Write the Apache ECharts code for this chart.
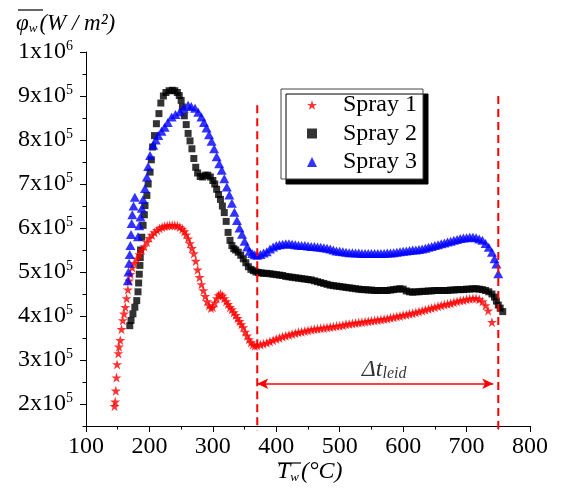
<!DOCTYPE html>
<html><head><meta charset="utf-8">
<script src="https://cdn.jsdelivr.net/npm/echarts@6/dist/echarts.min.js"></script>
<style>html,body{margin:0;padding:0;background:#fff}#c{width:561px;height:493px}</style>
</head><body><div id="c"></div>
<script>
// x: mean wall temperature (°C); y: mean heat flux in units of 10^5 W/m²
const spray1 = [
[145,1.95],[146,2.05],[147,2.3],[148,2.6],[149,2.9],[151,3.15],[152,3.3],[154,3.45],[156,3.7],[158,3.9],
[160,4.05],[162,4.2],[164,4.4],[166,4.6],[168,4.8],[170,4.95],[173,5.1],[176,5.2],[180,5.3],[184,5.4],
[188,5.5],[192,5.58],[196,5.68],[200,5.77],[204,5.84],[208,5.9],[212,5.95],[216,5.99],[220,6.02],[224,6.04],
[228,6.05],[232,6.06],[236,6.06],[240,6.06],[244,6.05],[248,6.02],[252,5.98],[255,5.92],[258,5.85],[261,5.76],
[264,5.65],[267,5.54],[270,5.42],[273,5.25],[276,5.05],[279,4.88],[282,4.72],[285,4.58],[288,4.45],[291,4.33],
[294,4.24],[297,4.18],[300,4.2],[303,4.3],[306,4.4],[309,4.47],[312,4.5],[315,4.46],[318,4.4],[321,4.33],
[324,4.27],[327,4.2],[330,4.15],[333,4.08],[336,4.02],[339,3.95],[342,3.88],[345,3.81],[348,3.74],[351,3.64],
[354,3.55],[357,3.47],[360,3.4],[363,3.35],[366,3.32],[370,3.33],[375,3.35],[380,3.37],[385,3.39],[390,3.42],
[395,3.45],[400,3.48],[405,3.5],[410,3.53],[415,3.55],[420,3.57],[425,3.59],[430,3.61],[435,3.63],[440,3.64],
[445,3.66],[450,3.67],[455,3.69],[460,3.7],[465,3.71],[470,3.72],[475,3.73],[480,3.74],[485,3.75],[490,3.76],
[495,3.77],[500,3.78],[505,3.79],[510,3.81],[515,3.82],[520,3.83],[525,3.84],[530,3.85],[535,3.86],[540,3.87],
[545,3.88],[550,3.89],[555,3.9],[560,3.91],[565,3.92],[570,3.93],[575,3.94],[580,3.96],[585,3.97],[590,3.99],
[595,4.0],[600,4.02],[605,4.03],[610,4.05],[615,4.06],[620,4.08],[625,4.1],[630,4.12],[635,4.14],[640,4.16],
[645,4.18],[650,4.2],[655,4.22],[660,4.24],[665,4.26],[670,4.27],[675,4.29],[680,4.31],[685,4.33],[690,4.35],
[695,4.36],[700,4.38],[705,4.39],[710,4.4],[715,4.4],[720,4.38],[725,4.33],[730,4.24],[734,4.12],[740,3.86]
];
const spray2 = [
[169,3.78],[171,3.9],[174,4.05],[177,4.2],[180,4.35],[182,4.55],[183,4.75],[184,4.95],[185,5.15],[185.5,5.33],
[186,5.5],[188,5.79],[190,6.06],[192,6.3],[193,6.51],[196,6.74],[198,7.0],[201,7.27],[203,7.55],[205,7.84],
[208,8.1],[211,8.37],[215,8.6],[218,8.84],[222,9.0],[226,9.08],[231,9.12],[236,9.13],[240,9.12],[244,9.08],
[247,9.01],[250,8.9],[252,8.75],[255,8.55],[258,8.35],[261,8.15],[264,7.98],[267,7.8],[270,7.58],[273,7.38],
[276,7.25],[280,7.17],[284,7.16],[288,7.2],[292,7.2],[296,7.16],[300,7.08],[303,7.0],[306,6.88],[309,6.76],
[312,6.65],[315,6.5],[318,6.35],[321,6.15],[324,5.9],[327,5.72],[330,5.6],[333,5.53],[336,5.5],[340,5.45],
[344,5.38],[348,5.3],[352,5.21],[356,5.12],[360,5.06],[364,5.03],[368,5.0],[372,4.99],[376,4.98],[380,4.97],
[385,4.97],[390,4.96],[395,4.95],[400,4.94],[405,4.93],[410,4.92],[415,4.9],[420,4.89],[425,4.88],[430,4.87],
[435,4.86],[440,4.85],[445,4.84],[450,4.83],[455,4.82],[460,4.8],[465,4.78],[470,4.76],[475,4.74],[480,4.72],
[485,4.7],[490,4.69],[495,4.68],[500,4.67],[505,4.66],[510,4.65],[515,4.64],[520,4.63],[525,4.62],[530,4.61],
[535,4.6],[540,4.6],[545,4.59],[550,4.59],[555,4.58],[560,4.58],[565,4.58],[570,4.58],[575,4.58],[580,4.59],
[585,4.6],[590,4.61],[595,4.62],[600,4.61],[605,4.57],[610,4.55],[615,4.54],[620,4.55],[625,4.55],[630,4.56],
[635,4.56],[640,4.57],[645,4.57],[650,4.58],[655,4.58],[660,4.58],[665,4.58],[670,4.58],[675,4.59],[680,4.59],
[685,4.6],[690,4.6],[695,4.6],[700,4.61],[705,4.61],[710,4.62],[715,4.62],[720,4.61],[725,4.6],[730,4.58],
[735,4.55],[740,4.5],[744,4.43],[747,4.34],[750,4.25],[753,4.18],[757,4.1]
];
const spray3 = [
[166,4.8],[167,5.0],[168,5.2],[169,5.4],[170,5.6],[171,5.85],[172,6.1],[173,6.3],[175,6.5],[177,6.7],
[182,5.8],[184,6.05],[186,6.25],[188,6.45],[190,6.65],[193,6.9],[196,7.16],[198,7.4],[201,7.65],[206,7.88],
[210,8.0],[214,8.1],[219,8.2],[224,8.29],[229,8.4],[235,8.52],[241,8.58],[248,8.64],[254,8.72],[261,8.79],
[266,8.76],[272,8.72],[277,8.63],[282,8.52],[286,8.4],[290,8.27],[294,8.12],[298,7.97],[302,7.8],[306,7.62],
[310,7.46],[314,7.31],[318,7.12],[322,6.93],[326,6.75],[330,6.56],[334,6.36],[338,6.17],[342,6.0],[346,5.86],
[350,5.7],[354,5.57],[358,5.47],[362,5.42],[366,5.39],[370,5.38],[375,5.4],[380,5.43],[385,5.46],[390,5.52],
[395,5.57],[400,5.6],[405,5.62],[410,5.63],[415,5.64],[420,5.64],[425,5.63],[430,5.62],[435,5.61],[440,5.6],
[445,5.6],[450,5.59],[455,5.58],[460,5.58],[465,5.57],[470,5.56],[475,5.55],[480,5.54],[485,5.52],[490,5.5],
[495,5.48],[500,5.47],[505,5.46],[510,5.45],[515,5.44],[520,5.44],[525,5.43],[530,5.43],[535,5.42],[540,5.42],
[545,5.42],[550,5.42],[555,5.42],[560,5.42],[565,5.42],[570,5.42],[575,5.43],[580,5.43],[585,5.44],[590,5.45],
[595,5.46],[600,5.47],[605,5.48],[610,5.49],[615,5.5],[620,5.5],[625,5.51],[630,5.52],[635,5.54],[640,5.56],
[645,5.58],[650,5.6],[655,5.62],[660,5.64],[665,5.66],[670,5.68],[675,5.7],[680,5.72],[685,5.74],[690,5.76],
[695,5.77],[700,5.78],[705,5.79],[710,5.79],[715,5.78],[720,5.75],[725,5.72],[730,5.65],[735,5.56],[740,5.45],
[744,5.3],[747,5.18],[750,4.96]
];
const seriesNames = ['Spray 1','Spray 2','Spray 3'];
const xTicks = [100,200,300,400,500,600,700,800];
const yTicks = [2,3,4,5,6,7,8,9,10];          // ×10^5 W/m²
const yMinorTicks = [1.5,2.5,3.5,4.5,5.5,6.5,7.5,8.5,9.5];
const yTickMantissa = ['2','3','4','5','6','7','8','9','1'];
const yTickExponent = ['5','5','5','5','5','5','5','5','6'];
// Leidenfrost interval annotation
const leidLines = [[370, 8.79], [750, 9.0]];   // [T, top of dashed line]
const leidArrow = [[370, 2.46], [742, 2.46]];
const leidLabel = [570, 2.80];

const FONT = 'Liberation Serif';
const star = 'path://M50 0 L61.23 34.55 L97.55 34.55 L68.16 55.9 L79.39 90.45 L50 69.1 L20.61 90.45 L31.84 55.9 L2.45 34.55 L38.77 34.55 Z';

const chart = echarts.init(document.getElementById('c'), null, {renderer:'canvas'});
const dashSeries = leidLines.map(function(l){
  return {type:'line', data:[[l[0], l[1]], [l[0], 1.4]], symbol:'none', clip:false, silent:true, z:5,
    lineStyle:{color:'#ff0000', width:2, type:[8,5]}};
});
chart.setOption({
  backgroundColor:'#fff',
  animation:false,
  grid:{left:86, right:31, top:52, bottom:67, outerBoundsMode:'none'},
  legend:{
    orient:'vertical', left:281, top:89,
    data:[{name:seriesNames[0], icon:star},{name:seriesNames[1], icon:'rect'},{name:seriesNames[2], icon:'triangle'}],
    itemWidth:10, itemHeight:10, itemGap:4.5,
    padding:[4,6,5,26],
    backgroundColor:'#fff', borderColor:'#444', borderWidth:1,
    shadowColor:'#000', shadowBlur:0, shadowOffsetX:5, shadowOffsetY:5,
    textStyle:{fontFamily:FONT, fontSize:24, color:'#000', lineHeight:24, padding:[0,0,0,21]}
  },
  xAxis:{
    type:'value', min:100, max:800, interval:100,
    axisLine:{show:true, onZero:false, lineStyle:{color:'#000', width:1}},
    axisTick:{show:true, length:6, lineStyle:{color:'#000'}},
    minorTick:{show:true, splitNumber:2, length:3.5, lineStyle:{color:'#000'}},
    splitLine:{show:false},
    axisLabel:{fontFamily:FONT, fontSize:24, color:'#000', margin:9, showMinLabel:true, showMaxLabel:true,
      customValues: xTicks}
  },
  yAxis:[{
    type:'value', min:1.5, max:10, position:'left', offset:0,
    axisLine:{show:true, onZero:false, lineStyle:{color:'#000', width:1}},
    axisTick:{show:true, length:6, lineStyle:{color:'#000'}, customValues:yTicks},
    splitLine:{show:false},
    axisLabel:{customValues:yTicks, margin:13, color:'#000',
      formatter:function(v){ const i = yTicks.indexOf(v); return '{b|'+yTickMantissa[i]+'x10}{s|'+yTickExponent[i]+'}'; },
      rich:{ b:{fontFamily:FONT, fontSize:24, color:'#000', lineHeight:26},
             s:{fontFamily:FONT, fontSize:14, color:'#000', verticalAlign:'top', lineHeight:26} }
    }
  },{
    type:'value', min:1.5, max:10, position:'left', offset:0,
    axisLine:{show:false}, splitLine:{show:false}, axisLabel:{show:false},
    axisTick:{show:true, length:3.5, lineStyle:{color:'#000'}, customValues:yMinorTicks}
  }],
  graphic:[
    {type:'text', left:16, top:12, style:{text:'{i|φ}{w|w}{i|(W / m²)}', rich:{
      i:{fontFamily:FONT, fontStyle:'italic', fontSize:23, color:'#000', lineHeight:25, verticalAlign:'bottom'},
      w:{fontFamily:FONT, fontStyle:'italic', fontSize:13, color:'#000', lineHeight:25, verticalAlign:'bottom', padding:[0,2,0,0]}}}},
    {type:'line', shape:{x1:18, y1:10, x2:43, y2:10}, style:{stroke:'#000', lineWidth:1.2}},
    {type:'text', left:277, top:460, style:{text:'{i|T}{w|w}{i|(°C)}', rich:{
      i:{fontFamily:FONT, fontStyle:'italic', fontSize:24, color:'#000', lineHeight:28, verticalAlign:'bottom'},
      w:{fontFamily:FONT, fontStyle:'italic', fontSize:13, color:'#000', lineHeight:28, verticalAlign:'bottom', padding:[0,2,0,0]}}}},
    {type:'line', shape:{x1:278, y1:463, x2:301, y2:463}, style:{stroke:'#000', lineWidth:1.2}}
  ],
  series:[
    {name:seriesNames[0], type:'scatter', data:spray1, symbol:star, symbolSize:10, itemStyle:{color:'#ff0000'}, z:3},
    {name:seriesNames[1], type:'scatter', data:spray2, symbol:'rect', symbolSize:7, itemStyle:{color:'#000'}, z:2},
    {name:seriesNames[2], type:'scatter', data:spray3, symbol:'triangle', symbolSize:[10,9], itemStyle:{color:'#0000ff'}, z:4},
  ].concat(dashSeries).concat([
    {type:'line', data:leidArrow, symbol:'none', clip:false, silent:true, lineStyle:{opacity:0},
      markLine:{silent:true, symbol:['arrow','arrow'], symbolSize:[8,11], label:{show:false},
        lineStyle:{color:'#ff0000', width:1.5, type:'solid'},
        data:[[{coord:leidArrow[0]},{coord:leidArrow[1]}]]}},
    {type:'scatter', data:[leidLabel], symbolSize:0, silent:true,
      label:{show:true, position:'inside', formatter:'{d|Δt}{l|leid}', rich:{
        d:{fontFamily:FONT, fontStyle:'italic', fontSize:24, color:'#000', lineHeight:26, verticalAlign:'bottom'},
        l:{fontFamily:FONT, fontStyle:'italic', fontSize:16, color:'#000', lineHeight:26, verticalAlign:'bottom', padding:[0,0,0,0]}}}}
  ])
});
</script></body></html>
